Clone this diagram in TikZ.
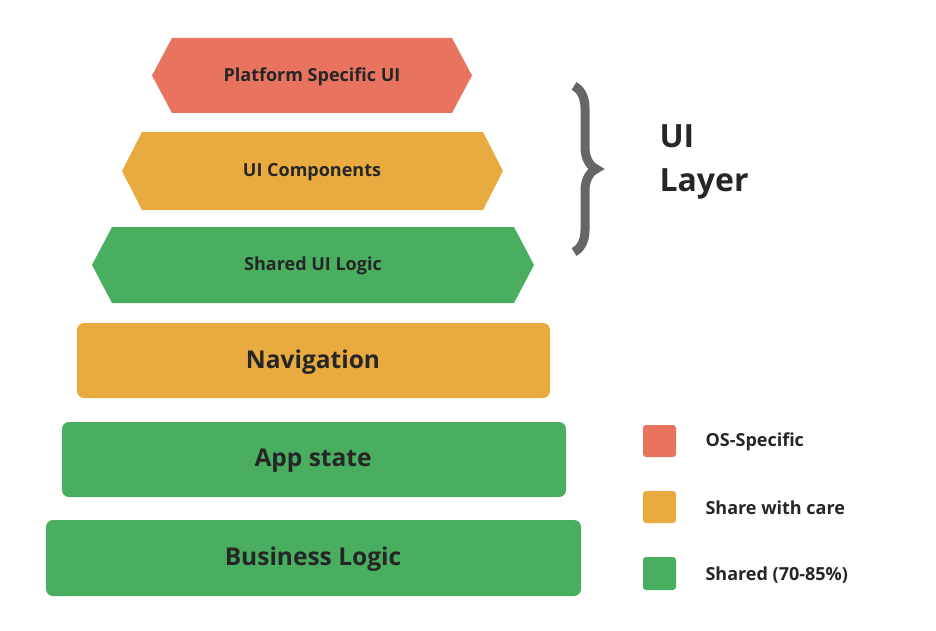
\documentclass[tikz,border=0pt]{standalone}
\usepackage{fontspec}
\setmainfont{Open Sans}
\usetikzlibrary{decorations.pathreplacing}
\definecolor{cred}{HTML}{E8735E}
\definecolor{corg}{HTML}{E9AB3F}
\definecolor{cgrn}{HTML}{49AE60}
\begin{document}
\begin{tikzpicture}[x=1pt,y=-1pt,
  lbl/.style={font=\bfseries\fontsize{18}{21}\selectfont,text=black!85},
  big/.style={font=\bfseries\fontsize{24.5}{28}\selectfont,text=black!85},
  blk/.style={rounded corners=7pt,draw=none}]
\useasboundingbox (0,0) rectangle (936,631);
\newcommand{\hexa}[5]{%
  \fill[#5] (#1,{(#3+#4)/2}) -- (#1+20,#3) -- (#2-20,#3) -- (#2,{(#3+#4)/2}) -- (#2-20,#4) -- (#1+20,#4) -- cycle;}
\hexa{152}{472}{38}{113}{cred}
\hexa{122}{503}{132}{210}{corg}
\hexa{92}{534}{227}{303}{cgrn}
\node[lbl] (psu) at (312,77) {Platform Specific UI};
\node[lbl] (uic) at (312,172) {UI Components};
\node[lbl] (sul) at (313,266) {Shared UI Logic};
\fill[blk,corg] (77,323) rectangle (550,398);
\fill[blk,cgrn] (62,422) rectangle (566,497);
\fill[blk,cgrn] (46,520) rectangle (581,596);
\node[big] (nav) at (313,362) {Navigation};
\node[big] (app) at (313,461) {App state};
\node[big] (bus) at (313,559) {Business Logic};
\draw[black!60,line width=9pt,decorate,decoration={brace,amplitude=22pt}] (574,86) -- (574,252);
\node[font=\bfseries\fontsize{32}{44}\selectfont,text=black!85,align=left,anchor=west] (uil) at (656,162) {UI\\Layer};
\fill[cred,rounded corners=3pt] (643,425) rectangle (676,457);
\fill[corg,rounded corners=3pt] (643,491) rectangle (676,523);
\fill[cgrn,rounded corners=3pt] (643,557) rectangle (676,590);
\node[lbl,anchor=west] (l1) at (702,442) {OS-Specific};
\node[lbl,anchor=west] (l2) at (702,508) {Share with care};
\node[lbl,anchor=west] (l3) at (702,575) {Shared (70-85\%)};
\end{tikzpicture}
\end{document}
